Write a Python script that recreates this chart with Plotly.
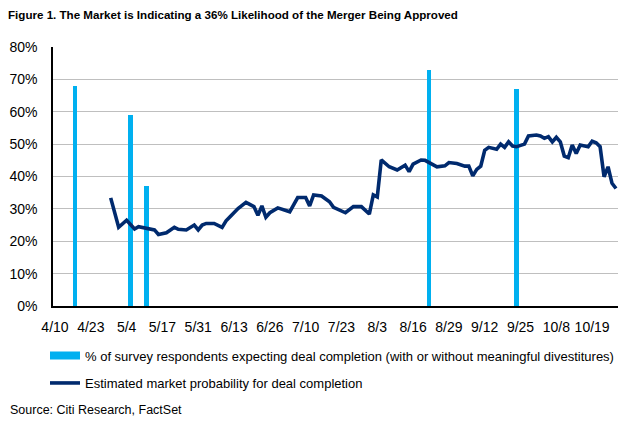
import pandas as pd
import plotly.graph_objects as go

# ---- data ----
survey_dates = ["2018-04-17", "2018-05-07", "2018-05-11", "2018-08-22", "2018-09-24"]
survey_pct = [68, 59, 37, 73, 67]

market_dates = [
    "2018-04-30", "2018-05-02", "2018-05-04", "2018-05-08", "2018-05-09", "2018-05-11",
    "2018-05-15", "2018-05-16", "2018-05-18", "2018-05-22", "2018-05-23", "2018-05-25",
    "2018-05-30", "2018-05-31", "2018-06-01", "2018-06-04", "2018-06-06", "2018-06-08",
    "2018-06-11", "2018-06-12", "2018-06-14", "2018-06-18", "2018-06-19", "2018-06-20",
    "2018-06-21", "2018-06-22", "2018-06-25", "2018-06-26", "2018-06-28", "2018-07-03",
    "2018-07-06", "2018-07-10", "2018-07-11", "2018-07-12", "2018-07-16", "2018-07-18",
    "2018-07-19", "2018-07-24", "2018-07-26", "2018-07-30", "2018-08-01", "2018-08-02",
    "2018-08-03", "2018-08-06", "2018-08-08", "2018-08-10", "2018-08-14", "2018-08-15",
    "2018-08-16", "2018-08-20", "2018-08-21", "2018-08-24", "2018-08-28", "2018-08-29",
    "2018-08-31", "2018-09-05", "2018-09-06", "2018-09-07", "2018-09-10", "2018-09-11",
    "2018-09-12", "2018-09-13", "2018-09-17", "2018-09-18", "2018-09-19", "2018-09-20",
    "2018-09-21", "2018-09-24", "2018-09-26", "2018-09-27", "2018-10-01", "2018-10-02",
    "2018-10-03", "2018-10-04", "2018-10-05", "2018-10-08", "2018-10-09", "2018-10-10",
    "2018-10-11", "2018-10-12", "2018-10-15", "2018-10-16", "2018-10-18", "2018-10-19",
    "2018-10-22", "2018-10-23", "2018-10-24", "2018-10-25", "2018-10-26", "2018-10-29",
]
market_pct = [
    33.4, 24.3, 26.5, 23.8, 24.5, 24.0,
    23.5, 22.1, 22.6, 24.3, 23.7, 23.5,
    25.0, 23.5, 25.0, 25.5, 25.5, 24.3,
    26.3, 27.6, 30.1, 32.0, 31.5, 30.7,
    28.0, 30.9, 27.4, 28.8, 30.3, 29.1,
    33.5, 33.5, 30.9, 34.3, 34.0, 32.2,
    30.5, 28.8, 30.7, 30.7, 28.4, 34.3,
    33.7, 45.1, 43.0, 42.0, 43.5, 41.5,
    43.8, 45.1, 45.0, 43.0, 43.3, 44.3,
    44.0, 43.2, 43.2, 40.2, 42.2, 43.2,
    48.1, 49.0, 48.4, 50.0, 49.0, 50.7,
    49.4, 49.2, 50.0, 52.5, 52.8, 52.5,
    51.8, 52.3, 50.7, 52.1, 50.7, 46.3,
    45.8, 49.7, 47.1, 49.7, 49.2, 50.9,
    50.4, 49.2, 39.9, 43.0, 37.9, 36.3,
]

tick_dates = ["2018-04-10", "2018-04-23", "2018-05-04", "2018-05-17", "2018-05-31",
              "2018-06-13", "2018-06-26", "2018-07-10", "2018-07-23", "2018-08-03",
              "2018-08-16", "2018-08-29", "2018-09-12", "2018-09-25", "2018-10-08",
              "2018-10-19"]
tick_labels = ["4/10", "4/23", "5/4", "5/17", "5/31", "6/13", "6/26", "7/10", "7/23",
               "8/3", "8/16", "8/29", "9/12", "9/25", "10/8", "10/19"]
axis_start, axis_end = "2018-04-10", "2018-10-29"
holidays = ["2018-05-28", "2018-07-04", "2018-09-03"]

survey_name = "% of survey respondents expecting deal completion (with or without meaningful divestitures)"
market_name = "Estimated market probability for deal completion"
title_text = "Figure 1. The Market is Indicating a 36% Likelihood of the Merger Being Approved"
source_text = "Source: Citi Research, FactSet"

BAR_COLOR = "#00B0F0"
LINE_COLOR = "#002A6E"
FONT = "Liberation Sans, Arial, sans-serif"

# trading-day category axis (weekends and market holidays are not on the axis)
trading_days = [d.strftime("%Y-%m-%d") for d in
                pd.bdate_range(axis_start, axis_end, freq="C", holidays=holidays)]

# page body has an 8px margin: work in figure pixels = screen pixels - 8
OFF = 8
W, H = 637 - OFF, 424 - OFF
PLOT_L, PLOT_R, PLOT_T, PLOT_B = 53 - OFF, 618 - OFF, 47 - OFF, 306 - OFF


def px_x(x):
    return (x - PLOT_L) / (PLOT_R - PLOT_L)


def px_y(y):
    return (PLOT_B - y) / (PLOT_B - PLOT_T)


fig = go.Figure()
fig.add_trace(go.Bar(
    x=survey_dates, y=survey_pct, width=[1.1] * len(survey_dates),
    marker=dict(color=BAR_COLOR, line=dict(width=0)), name=survey_name, showlegend=False,
))
fig.add_trace(go.Scatter(
    x=market_dates, y=market_pct, mode="lines",
    line=dict(color=LINE_COLOR, width=3.6), name=market_name, legend="legend2",
))
# legend entry for the survey bars (drawn as a thick swatch like the original)
fig.add_trace(go.Scatter(
    x=[None], y=[None], mode="lines", line=dict(color=BAR_COLOR, width=8),
    name=survey_name, legend="legend",
))

fig.update_layout(
    width=W, height=H,
    margin=dict(l=PLOT_L, r=W - PLOT_R, t=PLOT_T, b=H - PLOT_B, autoexpand=False),
    paper_bgcolor="white", plot_bgcolor="white",
    font=dict(family=FONT, size=14, color="#000"),
    title=dict(text="<b>" + title_text + "</b>", x=0, xanchor="left", xref="container",
               y=1 - 3 / H, yanchor="top", yref="container", pad=dict(l=0, t=0),
               font=dict(family=FONT, size=11.6, color="#000")),
    showlegend=True,
    legend=dict(x=px_x(37), xanchor="left", y=px_y(347.5), yanchor="middle",
                bgcolor="rgba(0,0,0,0)", font=dict(size=13), itemwidth=30),
    legend2=dict(x=px_x(37), xanchor="left", y=px_y(375), yanchor="middle",
                 bgcolor="rgba(0,0,0,0)", font=dict(size=13), itemwidth=30),
    bargap=0,
)
fig.update_xaxes(
    type="category", categoryorder="array", categoryarray=trading_days,
    range=[-0.5, len(trading_days) - 0.5],
    tickmode="array", tickvals=tick_dates, ticktext=tick_labels,
    showgrid=False, showline=True, linecolor="#000", linewidth=1.5,
    ticks="", ticklabelstandoff=7, tickfont=dict(size=14, color="#000"),
    zeroline=False,
)
fig.update_yaxes(
    range=[0, 80], dtick=10, ticksuffix="%",
    showgrid=True, gridcolor="#BFBFBF", gridwidth=1,
    showline=True, linecolor="#000", linewidth=1.5,
    ticks="", ticklabelstandoff=11, tickfont=dict(size=14, color="#000"),
    zeroline=False,
)
fig.add_annotation(text=source_text, xref="paper", yref="paper",
                   x=px_x(0), y=px_y(402), xanchor="left", yanchor="middle",
                   showarrow=False, font=dict(family=FONT, size=12.5, color="#000"))

fig.write_html("out.html")
